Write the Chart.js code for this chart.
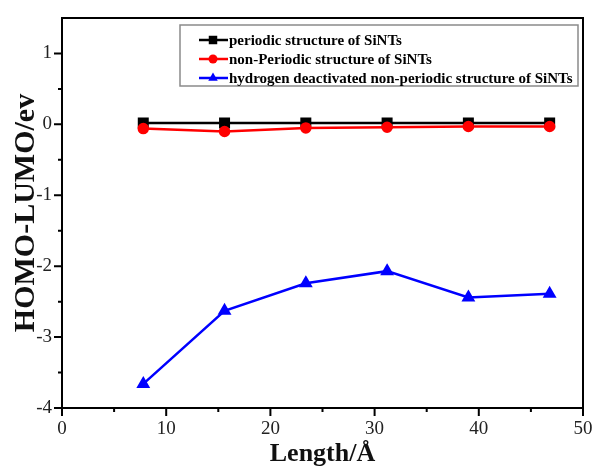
<!DOCTYPE html>
<html>
<head>
<meta charset="utf-8">
<title>HOMO-LUMO vs Length</title>
<script src="https://cdn.jsdelivr.net/npm/chart.js@4.4.1/dist/chart.umd.min.js"></script>
<style>
  html, body { margin: 0; padding: 0; background: #fff; }
</style>
</head>
<body>
<canvas id="gr1" width="595" height="467"></canvas>
<script>
// data
const lengths = [7.8, 15.6, 23.4, 31.2, 39.0, 46.8];
const periodic = [0.02, 0.02, 0.02, 0.02, 0.02, 0.02];
const nonPeriodic = [-0.06, -0.10, -0.05, -0.04, -0.03, -0.03];
const hydrogenated = [-3.66, -2.63, -2.24, -2.07, -2.44, -2.39];

const seriesNames = [
  "periodic structure of SiNTs",
  "non-Periodic structure of SiNTs",
  "hydrogen deactivated non-periodic structure of SiNTs"
];

// axis ticks
const xMajor = [0, 10, 20, 30, 40, 50];
const xMinor = [5, 15, 25, 35, 45];
const yMajor = [-4, -3, -2, -1, 0, 1];
const yMinor = [-3.5, -2.5, -1.5, -0.5, 0.5];

const serif = "'Liberation Serif', 'Times New Roman', serif";

function pts(ys) {
  return lengths.map((x, i) => ({ x: x, y: ys[i] }));
}

function setTicks(scale, major, minor) {
  scale.ticks = major.concat(minor).sort((a, b) => a - b).map(v => ({ value: v }));
}

// tick marks, frame and the boxed legend
const decor = {
  id: 'decor',
  afterDraw(chart) {
    const ctx = chart.ctx;
    const a = chart.chartArea;
    const xs = chart.scales.x, ys = chart.scales.y;
    ctx.save();
    ctx.strokeStyle = '#000';
    ctx.lineWidth = 2;
    ctx.beginPath();
    // top and right frame
    ctx.moveTo(a.left, a.top); ctx.lineTo(a.right, a.top); ctx.lineTo(a.right, a.bottom);
    xMajor.forEach(v => { const p = xs.getPixelForValue(v); ctx.moveTo(p, a.bottom); ctx.lineTo(p, a.bottom + 8); });
    xMinor.forEach(v => { const p = xs.getPixelForValue(v); ctx.moveTo(p, a.bottom); ctx.lineTo(p, a.bottom + 4); });
    yMajor.forEach(v => { const p = ys.getPixelForValue(v); ctx.moveTo(a.left, p); ctx.lineTo(a.left - 8, p); });
    yMinor.forEach(v => { const p = ys.getPixelForValue(v); ctx.moveTo(a.left, p); ctx.lineTo(a.left - 4, p); });
    ctx.stroke();

    // legend
    const bx = 180, by = 25, bw = 398, bh = 61;
    ctx.strokeStyle = '#8a8a8a';
    ctx.lineWidth = 1.5;
    ctx.strokeRect(bx, by, bw, bh);
    const rows = [40, 59, 78];
    ctx.font = "bold 15px " + serif;
    ctx.textBaseline = 'middle';
    chart.data.datasets.forEach((ds, r) => {
      const y = rows[r];
      ctx.strokeStyle = ds.borderColor;
      ctx.lineWidth = 2.5;
      ctx.beginPath(); ctx.moveTo(199, y); ctx.lineTo(228, y); ctx.stroke();
      ctx.fillStyle = ds.backgroundColor;
      Chart.helpers.drawPoint(ctx, {
        pointStyle: ds.pointStyle, radius: ds.pointRadius, borderWidth: 0, rotation: 0
      }, 213, y);
      ctx.fillStyle = '#000';
      ctx.fillText(ds.label, 229, y + 1);
    });
    ctx.restore();
  }
};

const config = {
  type: 'line',
  data: {
    datasets: [
      {
        label: seriesNames[0],
        data: pts(periodic),
        borderColor: '#000000',
        backgroundColor: '#000000',
        pointStyle: 'rect',
        pointRadius: 6,
        borderWidth: 2.5,
        order: 2
      },
      {
        label: seriesNames[1],
        data: pts(nonPeriodic),
        borderColor: '#ff0000',
        backgroundColor: '#ff0000',
        pointStyle: 'circle',
        pointRadius: 4.5,
        borderWidth: 2.5,
        order: 1
      },
      {
        label: seriesNames[2],
        data: pts(hydrogenated),
        borderColor: '#0000ff',
        backgroundColor: '#0000ff',
        pointStyle: 'triangle',
        pointRadius: 5.5,
        borderWidth: 2.5,
        order: 0
      }
    ]
  },
  options: {
    responsive: false,
    animation: false,
    layout: { padding: { left: 0, right: 12, top: 18, bottom: 0 } },
    elements: {
      line: { tension: 0 },
      point: { borderWidth: 0, hoverRadius: 5 }
    },
    scales: {
      x: {
        type: 'linear',
        min: 0,
        max: 50,
        afterBuildTicks: s => setTicks(s, xMajor, xMinor),
        afterFit: s => { s.height = 59; s.paddingLeft = 0; s.paddingRight = 0; },
        grid: { display: false, drawTicks: false },
        border: { display: true, color: '#000', width: 2 },
        ticks: {
          autoSkip: false,
          maxRotation: 0,
          padding: 10,
          color: '#222',
          font: { family: serif, size: 19 },
          callback: v => xMajor.includes(v) ? String(v) : ''
        },
        title: {
          display: true,
          text: 'Length/Å',
          color: '#111',
          font: { family: serif, size: 26, weight: 'bold', lineHeight: 1 },
          padding: { top: 0, bottom: 0 }
        }
      },
      y: {
        type: 'linear',
        min: -4,
        max: 1.5,
        afterBuildTicks: s => setTicks(s, yMajor, yMinor),
        afterFit: s => { s.width = 62; s.paddingTop = 0; s.paddingBottom = 0; },
        grid: { display: false, drawTicks: false },
        border: { display: true, color: '#000', width: 2 },
        ticks: {
          autoSkip: false,
          padding: 10,
          color: '#222',
          font: { family: serif, size: 19 },
          callback: v => yMajor.includes(v) ? String(v) : ''
        },
        title: {
          display: true,
          text: 'HOMO-LUMO/ev',
          color: '#111',
          font: { family: serif, size: 30, weight: 'bold', lineHeight: 1 },
          padding: { top: 11, bottom: 0 }
        }
      }
    },
    plugins: {
      legend: { display: false },
      tooltip: { enabled: false }
    }
  },
  plugins: [decor]
};

const graph1 = new Chart(document.getElementById('gr1').getContext('2d'), config);
</script>
</body>
</html>
